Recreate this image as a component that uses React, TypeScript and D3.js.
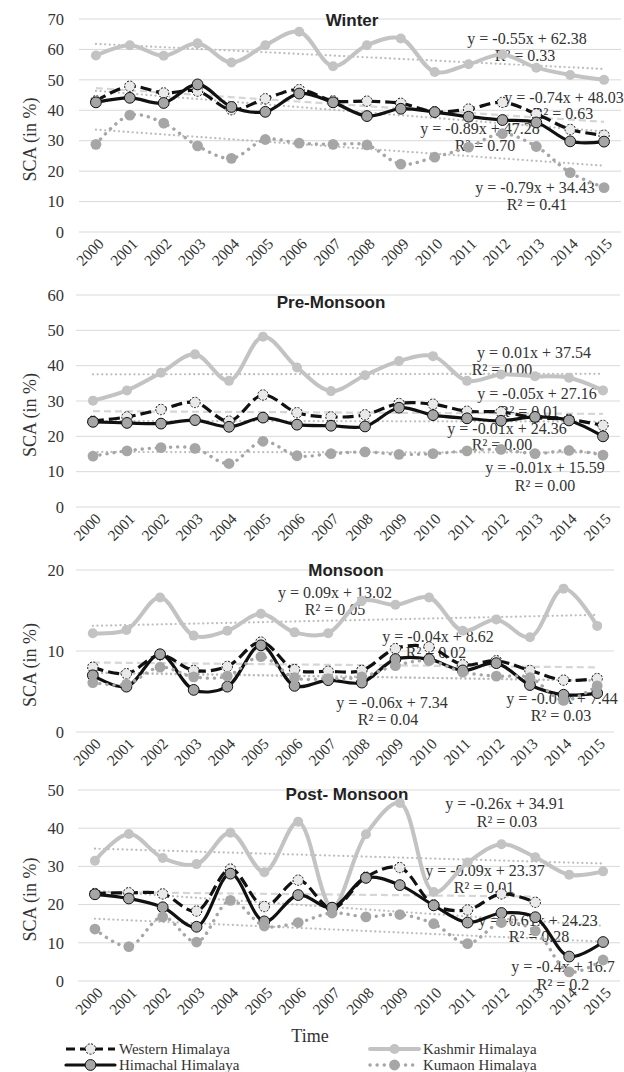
import React from "react";
import * as d3 from "d3";

const years = ["2000", "2001", "2002", "2003", "2004", "2005", "2006", "2007", "2008", "2009", "2010", "2011", "2012", "2013", "2014", "2015"];
const seriesNames = ["Western Himalaya", "Kashmir Himalaya", "Himachal Himalaya", "Kumaon Himalaya"];

// Winter
const winterWestern = [43.1, 47.9, 45.7, 46.3, 40.2, 43.8, 46.8, 43.1, 43, 42.3, 39.5, 40.4, 42.6, 38.8, 33.7, 31.8];
const winterKashmir = [58, 61.4, 57.9, 62, 55.7, 61.4, 65.8, 54.5, 61.4, 63.6, 52.6, 55.1, 58.3, 54, 51.6, 50];
const winterHimachal = [42.6, 44.1, 42.4, 48.5, 41.1, 39.5, 45.5, 42.6, 38.1, 40.5, 39.4, 37.9, 36.8, 36, 29.8, 29.7];
const winterKumaon = [28.8, 38.4, 35.8, 28.3, 24.2, 30.4, 29.2, 28.8, 28.6, 22.3, 24.6, 27.9, 32.3, 28.1, 19.5, 14.6];
const winterSlopes = [-0.74, -0.55, -0.89, -0.79];
const winterIntercepts = [48.03, 62.38, 47.28, 34.43];
const winterEquations = ["y = -0.74x + 48.03", "y = -0.55x + 62.38", "y = -0.89x + 47.28", "y = -0.79x + 34.43"];
const winterR2 = ["R² = 0.63", "R² = 0.33", "R² = 0.70", "R² = 0.41"];

// Pre-Monsoon
const preWestern = [24.3, 25.5, 27.6, 29.6, 24.3, 31.7, 26.7, 25.5, 26.1, 29.3, 29.1, 27.1, 26.9, 25.3, 24.8, 23.1];
const preKashmir = [30.1, 33, 38, 43.2, 35.7, 48.2, 39.5, 32.8, 37.3, 41.3, 42.7, 35.7, 37.5, 37, 36.6, 33];
const preHimachal = [24.1, 23.8, 23.6, 24.6, 22.7, 25.3, 23.3, 23, 22.8, 28.1, 26, 25.1, 24.4, 25.5, 24.5, 20];
const preKumaon = [14.4, 15.9, 16.8, 16.6, 12.3, 18.6, 14.5, 15.1, 15.6, 14.9, 15.1, 15.9, 16.3, 15.1, 16, 14.7];
const preSlopes = [-0.05, 0.01, -0.01, -0.01];
const preIntercepts = [27.16, 37.54, 24.36, 15.59];
const preEquations = ["y = -0.05x + 27.16", "y = 0.01x + 37.54", "y = -0.01x + 24.36", "y = -0.01x + 15.59"];
const preR2 = ["R² = 0.01", "R² = 0.00", "R² = 0.00", "R² = 0.00"];

// Monsoon
const monWestern = [8, 7.2, 9.5, 7.6, 8.1, 11.1, 7.7, 7.5, 7.6, 10.3, 10.5, 8.3, 8.8, 7.6, 6.4, 6.6];
const monKashmir = [12.2, 12.6, 16.6, 11.9, 12.5, 14.6, 12.3, 12.2, 16.2, 15.7, 16.6, 12.5, 13.9, 11.7, 17.7, 13.1];
const monHimachal = [7, 5.6, 9.6, 5.2, 5.6, 10.7, 5.7, 6.4, 6.1, 9, 9, 7.6, 8.5, 5.8, 4.6, 4.8];
const monKumaon = [6.1, 5.9, 8, 6.8, 6.9, 9.3, 6.7, 6.6, 6.8, 8.2, 8.8, 7.4, 6.9, 6.7, 3.9, 5.7];
const monSlopes = [-0.04, 0.09, -0.07, -0.06];
const monIntercepts = [8.62, 13.02, 7.44, 7.34];
const monEquations = ["y = -0.04x + 8.62", "y = 0.09x + 13.02", "y = -0.07x + 7.44", "y = -0.06x + 7.34"];
const monR2 = ["R² = 0.02", "R² = 0.05", "R² = 0.03", "R² = 0.04"];

// Post- Monsoon (Western has no 2014, 2015 values)
const postWestern = [22.9, 23.1, 22.8, 18.3, 29.3, 19.5, 26.4, 19, 27.2, 29.7, 19.9, 18.6, 22.8, 20.6, null, null];
const postKashmir = [31.5, 38.5, 32.2, 30.6, 38.8, 28.5, 41.7, 19.3, 38.4, 46.6, 23.3, 31, 35.8, 32.4, 27.8, 28.7];
const postHimachal = [22.7, 21.6, 19.3, 14.2, 28.1, 15.6, 22.5, 19.2, 27, 25.1, 19.8, 15.3, 17.8, 16.7, 6.4, 10.2];
const postKumaon = [13.6, 9, 16.8, 10.2, 21.1, 14.4, 15.3, 17.8, 16.8, 17.4, 15, 9.8, 15.3, 13.1, 2.4, 5.5];
const postSlopes = [-0.09, -0.26, -0.61, -0.4];
const postIntercepts = [23.37, 34.91, 24.23, 16.7];
const postEquations = ["y = -0.09x + 23.37", "y = -0.26x + 34.91", "y = -0.61x + 24.23", "y = -0.4x + 16.7"];
const postR2 = ["R² = 0.01", "R² = 0.03", "R² = 0.28", "R² = 0.2"];

const serif = "'Liberation Serif', 'DejaVu Serif', serif";
const sans = "'Liberation Sans', Arial, sans-serif";
const textColor = "#333";

// line + marker look for each series (Western, Kashmir, Himachal, Kumaon)
const seriesStyle = [
  { stroke: "#111", width: 3.2, dash: "11,5", cap: "butt", fill: "#e9e9e9", mStroke: "#111", mDash: "2,1.5", r: 5.2 },
  { stroke: "#c3c3c3", width: 4, dash: null, cap: "round", fill: "#c3c3c3", mStroke: "none", mDash: null, r: 5 },
  { stroke: "#111", width: 3.2, dash: null, cap: "round", fill: "#a6a6a6", mStroke: "#111", mDash: null, r: 5.4 },
  { stroke: "#a6a6a6", width: 3.4, dash: "0.1,7", cap: "round", fill: "#a6a6a6", mStroke: "none", mDash: null, r: 5.4 },
];
const drawOrder = [0, 1, 2, 3];

type Panel = {
  title: string;
  data: (number | null)[][];
  slopes: number[];
  intercepts: number[];
  eqs: string[];
  r2s: string[];
  yMax: number;
  top: number;
  bottom: number;
  left: number;
  right: number;
  titleX: number;
  titleY: number;
  eqPos: number[][];
};

const panels: Panel[] = [
  {
    title: "Winter",
    data: [winterWestern, winterKashmir, winterHimachal, winterKumaon],
    slopes: winterSlopes, intercepts: winterIntercepts, eqs: winterEquations, r2s: winterR2,
    yMax: 70, top: 19, bottom: 232, left: 79, right: 621, titleX: 352, titleY: 20,
    // [eqX, eqY, r2X, r2Y]
    eqPos: [[564, 97, 563, 113], [527, 38, 525, 55], [480, 128, 485, 145], [535, 187, 537, 204]],
  },
  {
    title: "Pre-Monsoon",
    data: [preWestern, preKashmir, preHimachal, preKumaon],
    slopes: preSlopes, intercepts: preIntercepts, eqs: preEquations, r2s: preR2,
    yMax: 60, top: 295, bottom: 507, left: 76, right: 620, titleX: 331, titleY: 302,
    eqPos: [[537, 393, 529, 411], [534, 352, 502, 369], [507, 428, 502, 444], [545, 467, 545, 485]],
  },
  {
    title: "Monsoon",
    data: [monWestern, monKashmir, monHimachal, monKumaon],
    slopes: monSlopes, intercepts: monIntercepts, eqs: monEquations, r2s: monR2,
    yMax: 20, top: 570, bottom: 732, left: 76, right: 614, titleX: 346, titleY: 570,
    eqPos: [[438, 636, 436, 652], [335, 592, 335, 609], [562, 698, 561, 715], [392, 702, 388, 719]],
  },
  {
    title: "Post- Monsoon",
    data: [postWestern, postKashmir, postHimachal, postKumaon],
    slopes: postSlopes, intercepts: postIntercepts, eqs: postEquations, r2s: postR2,
    yMax: 50, top: 790, bottom: 981, left: 78, right: 620, titleX: 347, titleY: 794,
    eqPos: [[485, 870, 484, 887], [505, 803, 507, 821], [538, 920, 539, 936], [563, 966, 563, 984]],
  },
];

const ChartPanel = ({ p }: { p: Panel }) => {
  const x = d3.scaleBand<string>().domain(years).range([p.left, p.right]);
  const cx = (yr: string) => (x(yr) as number) + x.bandwidth() / 2;
  const y = d3.scaleLinear().domain([0, p.yMax]).range([p.bottom, p.top]);
  const ticks = d3.range(0, p.yMax + 1, 10);

  const line = d3
    .line<number | null>()
    .defined((d) => d !== null)
    .x((_, i) => cx(years[i]))
    .y((d) => y(d as number))
    .curve(d3.curveCatmullRom.alpha(0.5));

  const midY = (p.top + p.bottom) / 2 + 14;

  return (
    <g>
      {ticks.map((t) => (
        <g key={t}>
          <line x1={p.left} x2={p.right} y1={y(t)} y2={y(t)} stroke="#d9d9d9" strokeWidth={1} />
          <text x={64} y={y(t)} dy="0.35em" textAnchor="end" fontFamily={serif} fontSize={16.5} fill={textColor}>
            {t}
          </text>
        </g>
      ))}
      {years.map((yr) => (
        <text
          key={yr}
          transform={`translate(${cx(yr) + 5},${p.bottom + 9}) rotate(-45)`}
          textAnchor="end"
          dy="0.35em"
          fontFamily={serif}
          fontSize={15.5}
          fill={textColor}
        >
          {yr}
        </text>
      ))}
      <text
        transform={`translate(30,${midY}) rotate(-90)`}
        textAnchor="middle"
        dy="0.35em"
        fontFamily={serif}
        fontSize={18}
        fill={textColor}
      >
        SCA (in %)
      </text>
      <text x={p.titleX} y={p.titleY} dy="0.35em" textAnchor="middle" fontFamily={sans} fontWeight="bold" fontSize={17} fill="#222">
        {p.title}
      </text>
      {/* linear trendlines from the fitted equations */}
      {p.data.map((s, si) => {
        const idx = s.map((v, i) => (v === null ? -1 : i)).filter((i) => i >= 0);
        const i0 = idx[0];
        const i1 = idx[idx.length - 1];
        const f = (i: number) => p.slopes[si] * (i + 1) + p.intercepts[si];
        return (
          <line
            key={"t" + si}
            x1={cx(years[i0])}
            x2={cx(years[i1])}
            y1={y(f(i0))}
            y2={y(f(i1))}
            stroke={si === 0 ? "#d6d6d6" : "#bdbdbd"}
            strokeWidth={2.2}
            strokeDasharray={si === 0 ? "7,4" : "0.1,4.5"}
            strokeLinecap={si === 0 ? "butt" : "round"}
          />
        );
      })}
      {p.eqs.map((eq, si) => (
        <g key={"e" + si} fontFamily={serif} fontSize={16} fill={textColor} textAnchor="middle">
          <text x={p.eqPos[si][0]} y={p.eqPos[si][1]} dy="0.35em">{eq}</text>
          <text x={p.eqPos[si][2]} y={p.eqPos[si][3]} dy="0.35em">{p.r2s[si]}</text>
        </g>
      ))}
      {drawOrder.map((si) => {
        const st = seriesStyle[si];
        const s = p.data[si];
        return (
          <g key={"s" + si}>
            <path
              d={line(s) || ""}
              fill="none"
              stroke={st.stroke}
              strokeWidth={st.width}
              strokeDasharray={st.dash || undefined}
              strokeLinecap={st.cap as any}
              strokeLinejoin="round"
            />
            {s.map((v, i) =>
              v === null ? null : (
                <circle
                  key={i}
                  cx={cx(years[i])}
                  cy={y(v)}
                  r={st.r}
                  fill={st.fill}
                  stroke={st.mStroke}
                  strokeWidth={1}
                  strokeDasharray={st.mDash || undefined}
                />
              )
            )}
          </g>
        );
      })}
    </g>
  );
};

const LegendItem = ({ si, x0, y0 }: { si: number; x0: number; y0: number }) => {
  const st = seriesStyle[si];
  return (
    <g>
      <line
        x1={x0}
        x2={x0 + 49}
        y1={y0}
        y2={y0}
        stroke={st.stroke}
        strokeWidth={st.width}
        strokeDasharray={si === 0 ? "9,5" : st.dash || undefined}
        strokeLinecap={st.cap as any}
      />
      <circle cx={x0 + 24.5} cy={y0} r={st.r} fill={st.fill} stroke={st.mStroke} strokeWidth={1} strokeDasharray={st.mDash || undefined} />
      <text x={x0 + 53} y={y0} dy="0.35em" fontFamily={serif} fontSize={15} fill={textColor}>
        {seriesNames[si]}
      </text>
    </g>
  );
};

export default function App() {
  return (
    <svg
      width={624}
      height={1072}
      style={{ position: "absolute", left: 0, top: 0, display: "block", background: "#fff" }}
    >
      {panels.map((p) => (
        <ChartPanel key={p.title} p={p} />
      ))}
      <text x={310} y={1036} dy="0.35em" textAnchor="middle" fontFamily={serif} fontSize={18} fill={textColor}>
        Time
      </text>
      <LegendItem si={0} x0={66} y0={1049} />
      <LegendItem si={1} x0={370} y0={1049} />
      <LegendItem si={2} x0={66} y0={1065} />
      <LegendItem si={3} x0={370} y0={1065} />
    </svg>
  );
}
